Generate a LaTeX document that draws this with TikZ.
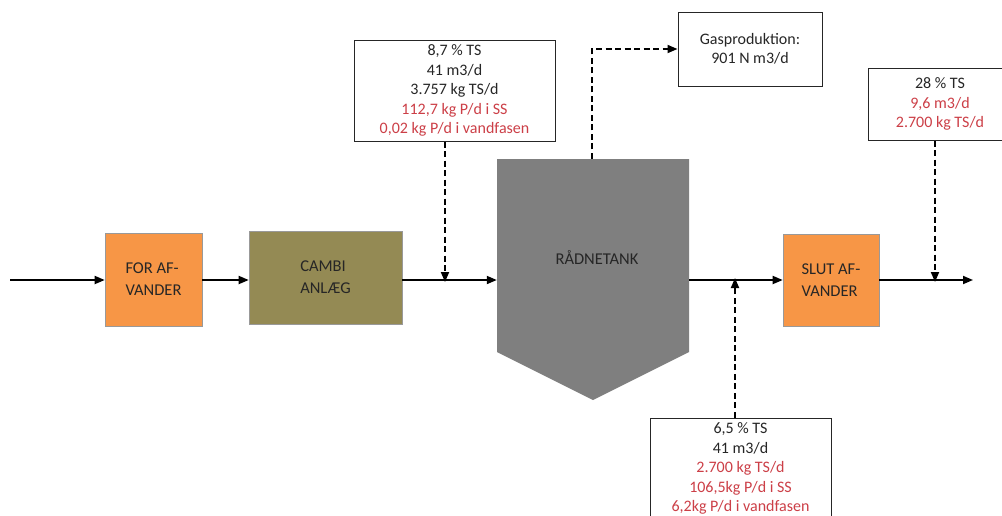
\documentclass[tikz,border=0pt]{standalone}
\usepackage{fontspec}
\setmainfont{Carlito}
\usetikzlibrary{positioning, arrows.meta}

\definecolor{afvorange}{HTML}{F79646}
\definecolor{cambiolive}{HTML}{948A54}
\definecolor{tankgray}{HTML}{7F7F7F}
\definecolor{datared}{HTML}{CC3F47}

\begin{document}
\begin{tikzpicture}[x=1pt, y=-1pt, >={Triangle[length=10pt,width=8pt]},
    flow/.style={->, line width=1.8pt},
    dflow/.style={->, line width=1.8pt, dash pattern=on 6pt off 3.5pt},
    procbox/.style={draw=black!40, line width=0.6pt, inner sep=0pt, align=left,
        text=black!85, font=\fontsize{16.5}{22}\selectfont},
    databox/.style={draw=black!85, line width=1pt, fill=white, inner sep=0pt, align=center,
        text=black!85, font=\fontsize{16}{19.5}\selectfont}]
    \useasboundingbox (0,0) rectangle (1002,515);

    % procesanlaeg
    \node[procbox, fill=afvorange, minimum width=97pt, minimum height=93pt] (forafv) at (153.5,279.5) {FOR AF-\\VANDER};
    \node[procbox, fill=cambiolive, minimum width=153pt, minimum height=93pt] (cambi) at (325.5,277.5) {CAMBI\\ANLÆG};
    \fill[tankgray] (497,159) -- (689,159) -- (689,352) -- (593,400) -- (497,352) -- cycle;
    \node[inner sep=0pt, minimum width=192pt, minimum height=193pt] (tank) at (593,255.5) {};
    \node[text=black!85, font=\fontsize{16.5}{19.5}\selectfont] (tanklbl) at (597,258) {RÅDNETANK};
    \node[procbox, fill=afvorange, minimum width=96pt, minimum height=92pt] (slutafv) at (831,280) {SLUT AF-\\VANDER};

    % datakasser
    \node[databox, minimum width=201pt, minimum height=101pt] (ind) at (454.5,90.5)
        {8,7 \% TS\\41 m3/d\\3.757 kg TS/d\\\textcolor{datared}{112,7 kg P/d i SS}\\\textcolor{datared}{0,02 kg P/d i vandfasen}};
    \node[databox, minimum width=144pt, minimum height=74pt] (gas) at (750,49) {Gasproduktion:\\901 N m3/d};
    \node[databox, minimum width=181pt, minimum height=101pt] (udraad) at (740.5,468.5)
        {6,5 \% TS\\41 m3/d\\\textcolor{datared}{2.700 kg TS/d}\\\textcolor{datared}{106,5kg P/d i SS}\\\textcolor{datared}{6,2kg P/d i vandfasen}};
    \node[databox, minimum width=144pt, minimum height=72pt] (slam) at (940,104)
        {28 \% TS\\\textcolor{datared}{9,6 m3/d}\\\textcolor{datared}{2.700 kg TS/d}};

    % hjaelpepunkter
    \coordinate (start) at (10,280);
    \coordinate (slut) at (973,280);
    \coordinate (j1) at (445,280);
    \coordinate (j2) at (735,280);
    \coordinate (j3) at (935,280);
    \coordinate (gasknaek) at (592,49);

    % hovedstroem
    \draw[flow] (start) -- (forafv.west |- start);
    \draw[flow] (forafv.east |- start) -- (cambi.west |- start);
    \draw[flow] (cambi.east |- start) -- (tank.west |- start);
    \draw[flow] (tank.east |- start) -- (slutafv.west |- start);
    \draw[flow] (slutafv.east |- start) -- (slut);

    % stiplede forbindelser
    \draw[dflow] (ind.south -| j1) -- ([yshift=-2pt]j1);
    \draw[dflow] (tank.north -| gasknaek) -- (gasknaek) -- (gas.west);
    \draw[dflow] (udraad.north -| j2) -- ([yshift=2pt]j2);
    \draw[dflow] (slam.south -| j3) -- ([yshift=-2pt]j3);
\end{tikzpicture}
\end{document}
